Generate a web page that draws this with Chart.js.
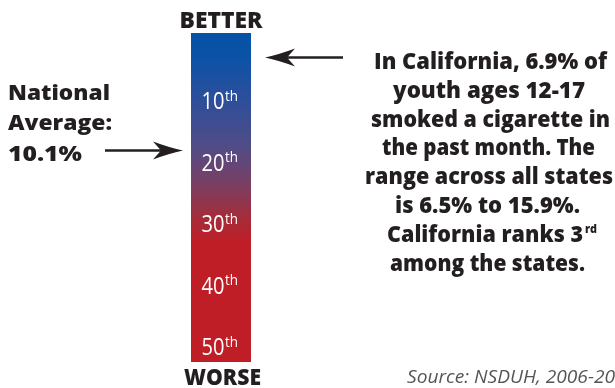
<!DOCTYPE html>
<html>
<head>
<meta charset="utf-8">
<script src="https://cdn.jsdelivr.net/npm/chart.js@4.4.1/dist/chart.umd.min.js"></script>
<style>
  html, body { margin: 0; padding: 0; background: #fff; }
  canvas { display: block; }
</style>
</head>
<body>
<canvas id="graph1" width="615" height="388"></canvas>
<script>
// state ranks, 1 = best
const rankTicks = [10, 20, 30, 40, 50];
const rankSpan = [-1, 52.5];          // ranks covered by the bar
const californiaRank = 3;
const californiaRate = 6.9;
const nationalAvgRate = 10.1;
const nationalAvgRank = 18.1;         // where the national average falls on the bar
const stateRange = [6.5, 15.9];

const textColor = '#231f20';

function ordinal(n) {
    const s = n % 100;
    if (s >= 11 && s <= 13) return 'th';
    return ({1: 'st', 2: 'nd', 3: 'rd'})[n % 10] || 'th';
}

// draw text stretched/squeezed to a given width (original face is Myriad)
function fitText(ctx, text, x, y, width) {
    const m = ctx.measureText(text).width;
    ctx.save();
    ctx.translate(x, y);
    ctx.scale(width / m, 1);
    ctx.fillText(text, 0, 0);
    ctx.restore();
}

function arrow(ctx, xTail, xTip, y) {
    const dir = xTip > xTail ? 1 : -1;
    ctx.save();
    ctx.strokeStyle = textColor;
    ctx.fillStyle = textColor;
    ctx.lineWidth = 2.5;
    ctx.beginPath();
    ctx.moveTo(xTail, y);
    ctx.lineTo(xTip - dir * 20, y);
    ctx.stroke();
    ctx.beginPath();
    ctx.moveTo(xTip, y);
    ctx.quadraticCurveTo(xTip - dir * 14, y - 3, xTip - dir * 30, y - 9);
    ctx.lineTo(xTip - dir * 22, y);
    ctx.lineTo(xTip - dir * 30, y + 9);
    ctx.quadraticCurveTo(xTip - dir * 14, y + 3, xTip, y);
    ctx.fill();
    ctx.restore();
}

const annotations = {
    id: 'annotations',
    afterDraw(chart) {
        const ctx = chart.ctx;
        const y = chart.scales.y;
        const area = chart.chartArea;
        const cx = (area.left + area.right) / 2;

        ctx.save();
        ctx.textBaseline = 'alphabetic';

        // BETTER / WORSE
        ctx.fillStyle = textColor;
        ctx.font = '800 22px "Open Sans"';
        fitText(ctx, 'BETTER', cx - 41.5, area.top - 5, 83);
        fitText(ctx, 'WORSE', cx - 37, area.bottom + 23, 77);

        // rank labels on the bar
        ctx.fillStyle = '#ffffff';
        rankTicks.forEach(r => {
            const py = y.getPixelForValue(r);
            ctx.font = '23px "Open Sans"';
            fitText(ctx, String(r), area.left + 10.5, py + 8.5, 23);
            ctx.font = '14px "Open Sans"';
            fitText(ctx, ordinal(r), area.left + 34, py, 13);
        });

        // left note
        ctx.fillStyle = textColor;
        ctx.font = '800 21px "Open Sans"';
        fitText(ctx, 'National', 8, 100, 102);
        fitText(ctx, 'Average:', 8, 130, 104);
        fitText(ctx, nationalAvgRate + '%', 8, 161, 74);
        arrow(ctx, 105, 183, y.getPixelForValue(nationalAvgRank));

        // right note
        arrow(ctx, 343, 265, y.getPixelForValue(californiaRank));
        const lines = [
            ['In California, ' + californiaRate + '% of', 374, 233],
            ['youth ages 12-17', 393, 192],
            ['smoked a cigarette in', 371, 239],
            ['the past month. The', 382, 213],
            ['range across all states', 365, 248],
            ['is ' + stateRange[0] + '% to ' + stateRange[1] + '%.', 395, 185],
            ['California ranks ' + californiaRank, 387, 196],
            ['among the states.', 390, 195]
        ];
        ctx.font = '800 22px "Open Sans"';
        lines.forEach((l, i) => {
            fitText(ctx, l[0], l[1], 69 + i * 28.8, l[2]);
        });
        ctx.font = '800 12px "Open Sans"';
        fitText(ctx, ordinal(californiaRank), 585, 69 + 6 * 28.8 - 9, 12);

        // source
        ctx.fillStyle = '#555555';
        ctx.font = 'italic 19px "Open Sans"';
        const src = 'Source: NSDUH, 2006-2008';
        fitText(ctx, src, 407, 383, 208 * ctx.measureText(src).width / ctx.measureText('Source: NSDUH, 2006-20').width);

        ctx.restore();
    }
};

const config = {
    type: 'bar',
    data: {
        labels: ['California'],
        datasets: [{
            data: [rankSpan],
            borderWidth: 0,
            barPercentage: 1,
            categoryPercentage: 1,
            backgroundColor: function(context) {
                const area = context.chart.chartArea;
                if (!area) return '#c11f2a';
                const g = context.chart.ctx.createLinearGradient(0, area.top, 0, area.bottom);
                g.addColorStop(0, '#0552a8');
                g.addColorStop(0.07, '#0a52a6');
                g.addColorStop(0.19, '#2a4f9c');
                g.addColorStop(0.34, '#4f4c88');
                g.addColorStop(0.46, '#7a3f63');
                g.addColorStop(0.55, '#a02e3e');
                g.addColorStop(0.64, '#c01e26');
                g.addColorStop(1, '#c01e26');
                return g;
            }
        }]
    },
    options: {
        responsive: false,
        animation: false,
        devicePixelRatio: 1,
        layout: {
            padding: { left: 191, right: 364, top: 33, bottom: 26 }
        },
        scales: {
            x: { display: false },
            y: {
                display: false,
                reverse: true,
                min: rankSpan[0],
                max: rankSpan[1]
            }
        },
        plugins: {
            legend: { display: false },
            tooltip: { enabled: false }
        }
    },
    plugins: [annotations]
};

const myChart = new Chart(document.getElementById('graph1'), config);
</script>
</body>
</html>
